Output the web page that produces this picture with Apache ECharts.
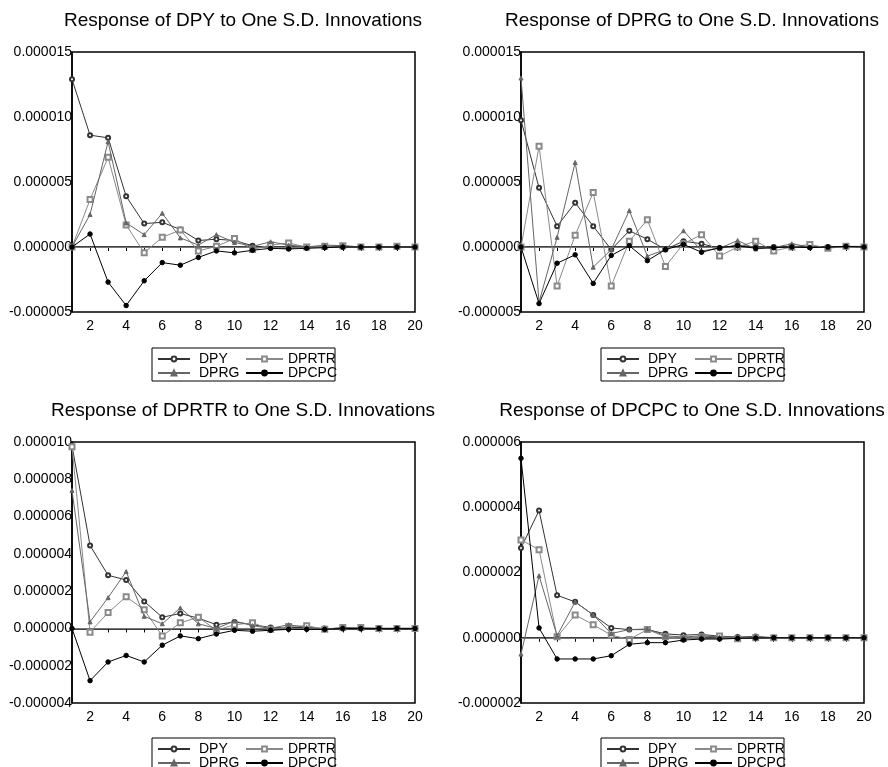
<!DOCTYPE html>
<html>
<head>
<meta charset="utf-8">
<script src="https://cdn.jsdelivr.net/npm/echarts@6/dist/echarts.min.js"></script>
<style>
  html, body { margin: 0; padding: 0; background: #fff; }
  #chart { width: 888px; height: 767px; }
</style>
</head>
<body>
<div id="chart"></div>
<script>
// impulse responses, values in millionths (axis labels print them as 0.00000x)
const periods = [1, 2, 3, 4, 5, 6, 7, 8, 9, 10, 11, 12, 13, 14, 15, 16, 17, 18, 19, 20];
const shockNames = ["DPY", "DPRTR", "DPRG", "DPCPC"];

// Response of DPY
const dpyToDPY   = [12.9, 8.6, 8.4, 3.9, 1.8, 1.9, 1.35, 0.5, 0.6, 0.5, 0.1, -0.05, -0.1, 0.0, 0.0, 0.0, 0.0, 0.0, 0.0, 0.0];
const dpyToDPRTR = [0, 3.65, 6.9, 1.7, -0.45, 0.75, 1.3, -0.3, 0.05, 0.65, -0.2, 0.15, 0.3, 0.0, 0.05, 0.1, 0.0, 0.0, 0.05, 0.0];
const dpyToDPRG  = [0, 2.5, 8.1, 1.85, 0.95, 2.6, 0.7, 0.15, 0.95, 0.35, 0.05, 0.4, 0.15, 0.0, 0.15, 0.1, 0.0, 0.0, 0.05, 0.0];
const dpyToDPCPC = [0, 1.0, -2.7, -4.5, -2.6, -1.2, -1.4, -0.8, -0.3, -0.45, -0.25, -0.1, -0.15, -0.1, -0.05, 0.0, 0.0, 0.0, 0.0, 0.0];

// Response of DPRG
const dprgToDPY   = [9.75, 4.55, 1.6, 3.4, 1.6, -0.2, 1.25, 0.6, -0.2, 0.45, 0.25, -0.1, 0.15, 0.0, 0.0, 0.05, 0.0, 0.0, 0.05, 0.0];
const dprgToDPRTR = [0, 7.75, -3.0, 0.9, 4.2, -3.0, 0.45, 2.1, -1.5, 0.25, 0.95, -0.7, 0.0, 0.45, -0.3, 0.0, 0.2, -0.1, 0.05, 0.0];
const dprgToDPRG  = [13.0, -4.25, 0.75, 6.5, -1.55, -0.2, 2.8, -0.7, -0.2, 1.25, -0.3, -0.1, 0.5, -0.15, -0.05, 0.25, 0.0, -0.05, 0.05, 0.05];
const dprgToDPCPC = [0, -4.35, -1.25, -0.6, -2.8, -0.65, 0.1, -1.05, -0.2, 0.2, -0.4, -0.05, 0.1, -0.1, -0.05, 0.0, -0.05, 0.0, 0.05, 0.0];

// Response of DPRTR
const dprtrToDPY   = [9.8, 4.45, 2.85, 2.6, 1.45, 0.6, 0.8, 0.55, 0.2, 0.35, 0.2, 0.05, 0.05, 0.05, 0.0, 0.0, 0.0, 0.0, 0.0, 0.0];
const dprtrToDPRTR = [9.75, -0.2, 0.85, 1.7, 1.0, -0.4, 0.3, 0.6, -0.1, 0.2, 0.3, -0.05, 0.1, 0.15, -0.05, 0.05, 0.05, 0.0, 0.0, 0.0];
const dprtrToDPRG  = [7.4, 0.35, 1.65, 3.05, 0.65, 0.25, 1.1, 0.25, 0.0, 0.4, 0.15, 0.0, 0.2, 0.05, -0.05, 0.05, 0.0, 0.0, 0.0, 0.0];
const dprtrToDPCPC = [0, -2.8, -1.8, -1.45, -1.8, -0.9, -0.4, -0.55, -0.3, -0.1, -0.15, -0.1, -0.05, -0.05, -0.05, 0.0, 0.0, 0.0, 0.0, 0.0];

// Response of DPCPC
const dpcpcToDPY   = [2.75, 3.9, 1.3, 1.1, 0.7, 0.3, 0.25, 0.25, 0.12, 0.08, 0.1, 0.05, 0.02, 0.04, 0.0, 0.0, 0.0, 0.0, 0.0, 0.0];
const dpcpcToDPRTR = [3.0, 2.7, 0.03, 0.7, 0.4, 0.08, -0.05, 0.25, 0.03, -0.02, 0.03, 0.05, -0.03, 0.0, 0.0, 0.0, 0.0, 0.0, 0.0, 0.0];
const dpcpcToDPRG  = [-0.5, 1.9, 0.06, 1.1, 0.7, 0.13, 0.25, 0.27, 0.06, 0.02, 0.06, 0.02, 0.01, 0.02, 0.0, 0.0, 0.0, 0.0, 0.0, 0.0];
const dpcpcToDPCPC = [5.5, 0.3, -0.65, -0.65, -0.65, -0.55, -0.2, -0.15, -0.15, -0.07, -0.04, -0.04, -0.02, -0.01, 0.0, 0.0, 0.0, 0.0, 0.0, 0.0];

const panelTitles = [
  "Response of DPY to One S.D. Innovations",
  "Response of DPRG to One S.D. Innovations",
  "Response of DPRTR to One S.D. Innovations",
  "Response of DPCPC to One S.D. Innovations",
];
const panelData = [
  [dpyToDPY, dpyToDPRTR, dpyToDPRG, dpyToDPCPC],
  [dprgToDPY, dprgToDPRTR, dprgToDPRG, dprgToDPCPC],
  [dprtrToDPY, dprtrToDPRTR, dprtrToDPRG, dprtrToDPCPC],
  [dpcpcToDPY, dpcpcToDPRTR, dpcpcToDPRG, dpcpcToDPCPC],
];
// y range per panel [min, max, step], millionths
const yRanges = [[-5, 15, 5], [-5, 15, 5], [-4, 10, 2], [-2, 6, 2]];

const FONT = "Liberation Sans, Arial, sans-serif";

const seriesStyle = {
  DPY:   { color: "#333333", symbol: "emptyCircle", symbolSize: 4 },
  DPRTR: { color: "#8a8a8a", symbol: "emptyRect", symbolSize: 5 },
  DPRG:  { color: "#666666", symbol: "triangle", symbolSize: 4 },
  DPCPC: { color: "#000000", symbol: "circle", symbolSize: 4.5 },
};

// panel origin offsets: left column / right column, top row / bottom row
const colX = [0, 449];
const rowY = [0, 390];

const grids = [], xAxes = [], yAxes = [], series = [], titles = [], legends = [], graphics = [];

panelData.forEach((rows, p) => {
  const dx = colX[p % 2];
  const row = Math.floor(p / 2);
  const dy = rowY[row];
  const [ymin, ymax, ystep] = yRanges[p];

  grids.push({
    left: 72 + dx, top: 52 + dy, width: 343, height: row === 0 ? 260 : 261,
    show: true, borderColor: "#000", borderWidth: 1.5, backgroundColor: "#fff",
  });

  titles.push({
    text: panelTitles[p],
    left: 243 + dx, top: 11 + dy, textAlign: "center", padding: 0,
    textStyle: { fontFamily: FONT, fontSize: 19, fontWeight: "normal", color: "#000" },
  });

  xAxes.push({
    type: "value", gridIndex: p, min: 1, max: 20, interval: 1,
    axisLine: { lineStyle: { color: "#000", width: 1.5 } },
    axisTick: { show: true, length: 4, lineStyle: { color: "#000" } },
    axisLabel: {
      fontFamily: FONT, fontSize: 14, color: "#000", margin: 7,
      formatter: (v) => (v % 2 === 0 ? String(v) : ""),
    },
    splitLine: { show: false },
  });

  yAxes.push({
    type: "value", gridIndex: p, min: ymin, max: ymax, interval: ystep,
    axisLine: { show: true, lineStyle: { color: "#000", width: 1.5 } },
    axisTick: { show: false },
    axisLabel: {
      fontFamily: FONT, fontSize: 14, color: "#000", margin: 0,
      formatter: (v) => (v / 1e6).toFixed(6),
    },
    splitLine: { show: false },
  });

  shockNames.forEach((name, k) => {
    const st = seriesStyle[name];
    const s = {
      name: name, type: "line", xAxisIndex: p, yAxisIndex: p,
      data: periods.map((t, i) => [t, rows[k][i]]),
      symbol: st.symbol, symbolSize: st.symbolSize, showAllSymbol: true,
      itemStyle: { color: st.color, borderColor: st.color, borderWidth: 1 },
      lineStyle: { color: st.color, width: 1 },
      z: 3 + k, emphasis: { disabled: true },
    };
    if (k === 0) {
      s.markLine = {
        silent: true, symbol: "none", label: { show: false },
        lineStyle: { color: "#777", type: "solid", width: 1 },
        data: [{ yAxis: 0 }],
      };
    }
    series.push(s);
  });

  // legend box (two columns, like the original)
  graphics.push({
    type: "rect", shape: { x: 152 + dx, y: 348 + dy, width: 183, height: 33 },
    style: { fill: "#fff", stroke: "#000", lineWidth: 1 }, z: 0,
  });
  const legendBase = {
    orient: "vertical", top: 352 + dy, height: 40, padding: 0, itemGap: 0,
    itemHeight: 6, selectedMode: false, z: 10,
    textStyle: { fontFamily: FONT, fontSize: 14, lineHeight: 13, color: "#000" },
  };
  legends.push(Object.assign({}, legendBase, {
    left: 157 + dx, itemWidth: 32, data: ["DPY", "DPRG"],
    textStyle: Object.assign({}, legendBase.textStyle, { padding: [0, 0, 0, 4] }),
  }));
  legends.push(Object.assign({}, legendBase, { left: 245 + dx, itemWidth: 37, data: ["DPRTR", "DPCPC"] }));
});

const chart = echarts.init(document.getElementById("chart"), null, { renderer: "canvas" });
chart.setOption({
  backgroundColor: "#fff",
  animation: false,
  title: titles,
  grid: grids,
  xAxis: xAxes,
  yAxis: yAxes,
  legend: legends,
  graphic: graphics,
  series: series,
});
window.addEventListener("resize", () => chart.resize());
</script>
</body>
</html>
